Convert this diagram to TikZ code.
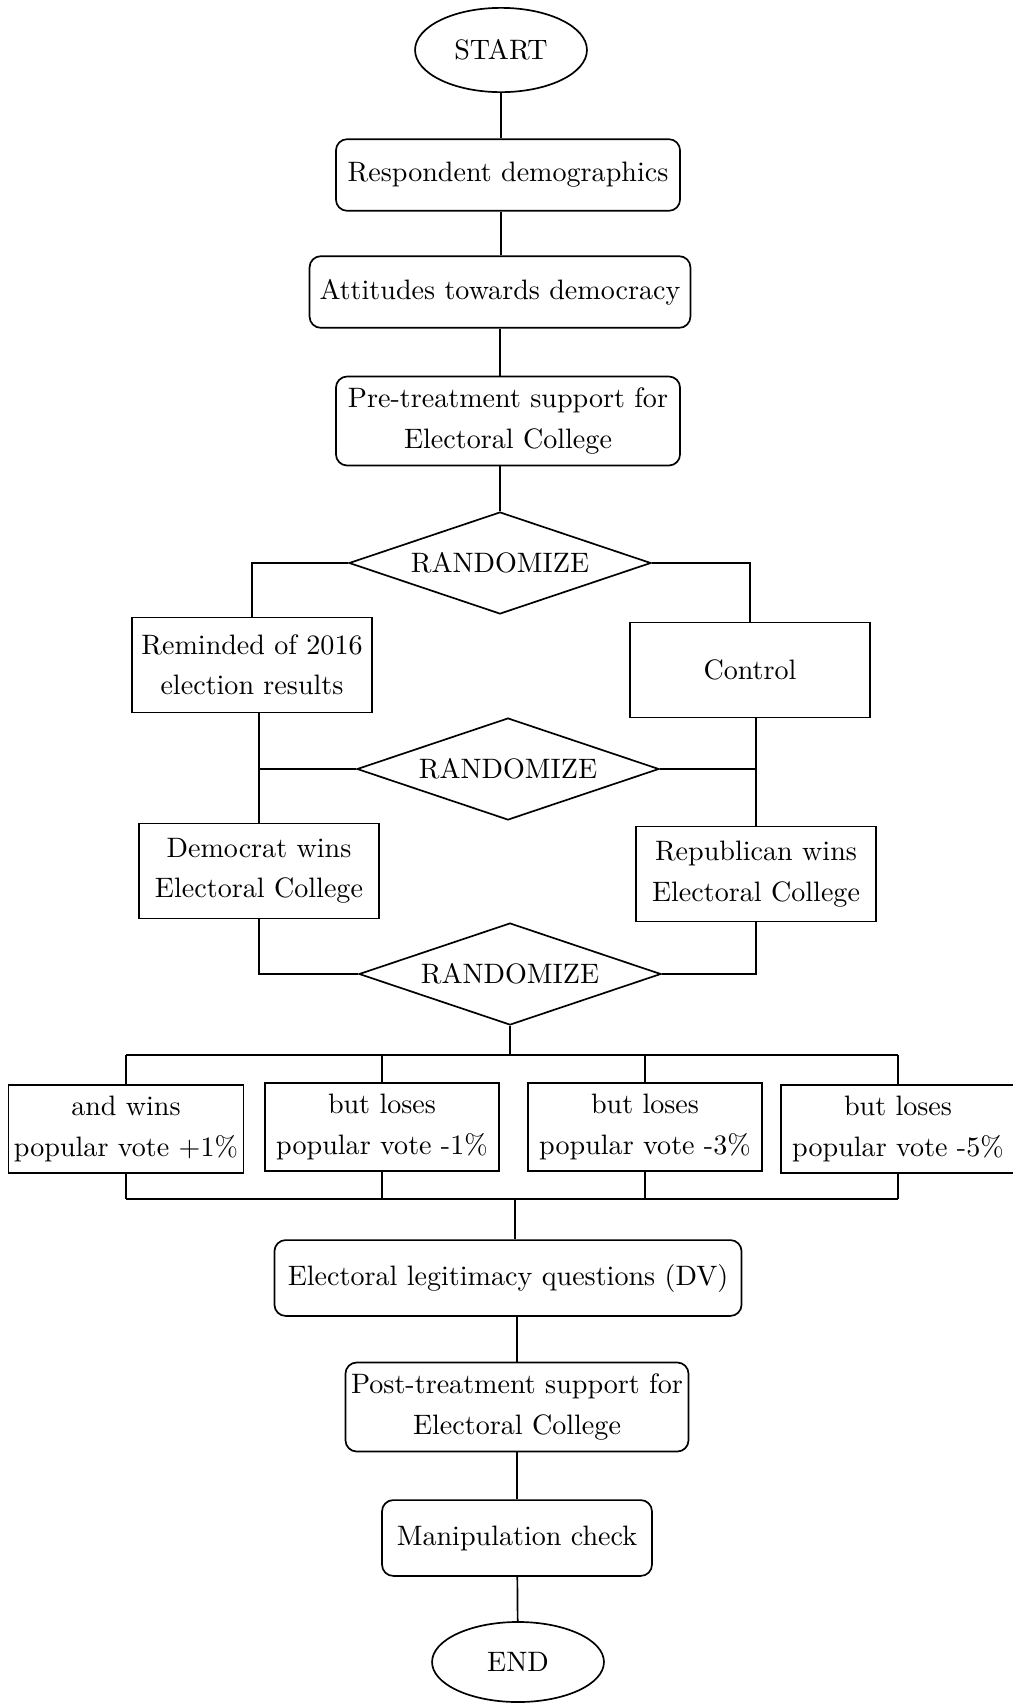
\documentclass[tikz,border=0pt]{standalone}
\usepackage{tikz}
\usetikzlibrary{shapes.geometric,calc}

\begin{document}
\begin{tikzpicture}[
  x=0.356pt, y=-0.356pt,
  line width=0.6pt,
  every node/.style = {draw, align=center, inner sep=2pt, line width=0.6pt, font=\linespread{1.2}\selectfont},
  term/.style = {ellipse, minimum width=61.2pt, minimum height=30pt},
  proc/.style = {rectangle, rounded corners=4pt, minimum height=25.5pt},
  arm/.style = {rectangle, minimum width=85.4pt, minimum height=33.8pt},
  vote/.style = {rectangle, minimum width=83.5pt, minimum height=31.2pt},
  rand/.style = {diamond, aspect=3, inner sep=0pt, minimum width=107.5pt, minimum height=36.3pt}
]
  \useasboundingbox (0,0) rectangle (1013,1703);

  \node[term] (start) at (501,50) {START};
  \node[proc, minimum width=122.5pt] (demog) at (508,175) {Respondent demographics};
  \node[proc, minimum width=135.6pt] (attit) at (500,292) {Attitudes towards democracy};
  \node[proc, minimum width=122.5pt, minimum height=31.7pt] (pretreat) at (508,421) {Pre-treatment support for\\ Electoral College};
  \node[rand] (randA) at (500,563) {RANDOMIZE};
  \node[arm] (remind) at (252,665) {Reminded of 2016\\election results};
  \node[arm] (control) at (750,670) {Control};
  \node[rand] (randB) at (508,769) {RANDOMIZE};
  \node[arm] (demwin) at (259,871) {Democrat wins\\Electoral College};
  \node[arm] (repwin) at (756,874) {Republican wins\\Electoral College};
  \node[rand] (randC) at (510,974) {RANDOMIZE};
  \node[vote] (pvA) at (126,1129) {and wins\\popular vote +1\%};
  \node[vote] (pvB) at (382,1127) {but loses\\popular vote -1\%};
  \node[vote] (pvC) at (645,1127) {but loses\\popular vote -3\%};
  \node[vote] (pvD) at (898,1129) {but loses\\popular vote -5\%};
  \node[proc, minimum width=166.3pt, minimum height=27pt] (legit) at (508,1278) {Electoral legitimacy questions (DV)};
  \node[proc, minimum width=122.1pt, minimum height=31.7pt] (posttreat) at (517,1407) {Post-treatment support for\\ Electoral College};
  \node[proc, minimum width=96.1pt, minimum height=27pt] (manip) at (517,1538) {Manipulation check};
  \node[term, minimum height=28.5pt] (finish) at (518,1662) {END};

  \coordinate (splitC) at (510,1055);
  \coordinate (joinC) at (515,1199);

  % top of the chain
  \draw (start) -- (start |- demog.north);
  \draw (demog.south -| start) -- (attit.north -| start);
  \draw (attit) -- (attit |- pretreat.north);
  \draw (pretreat.south -| randA) -- (randA.north);

  % first split
  \draw (randA.west) -| (remind.north);
  \draw (randA.east) -| (control.north);

  % second split
  \draw (demwin.north |- remind.south) -- (demwin.north);
  \draw (randB.west) -- (randB.west -| demwin.north);
  \draw (repwin.north |- control.south) -- (repwin.north);
  \draw (randB.east) -- (randB.east -| repwin.north);

  % third split
  \draw (demwin.south) |- (randC.west);
  \draw (repwin.south) |- (randC.east);
  \draw (randC.south) -- (splitC);
  \draw (pvA.north |- splitC) -- (pvD.north |- splitC);
  \foreach \b in {pvA,pvB,pvC,pvD}
    \draw (\b.north) -- (\b.north |- splitC);

  % join again
  \foreach \b in {pvA,pvB,pvC,pvD}
    \draw (\b.south) -- (\b.south |- joinC);
  \draw (pvA.south |- joinC) -- (pvD.south |- joinC);
  \draw (joinC) -- (legit.north -| joinC);

  % bottom of the chain
  \draw (legit.south -| posttreat) -- (posttreat.north);
  \draw (posttreat) -- (manip);
  \draw (manip) -- (finish);
\end{tikzpicture}
\end{document}
